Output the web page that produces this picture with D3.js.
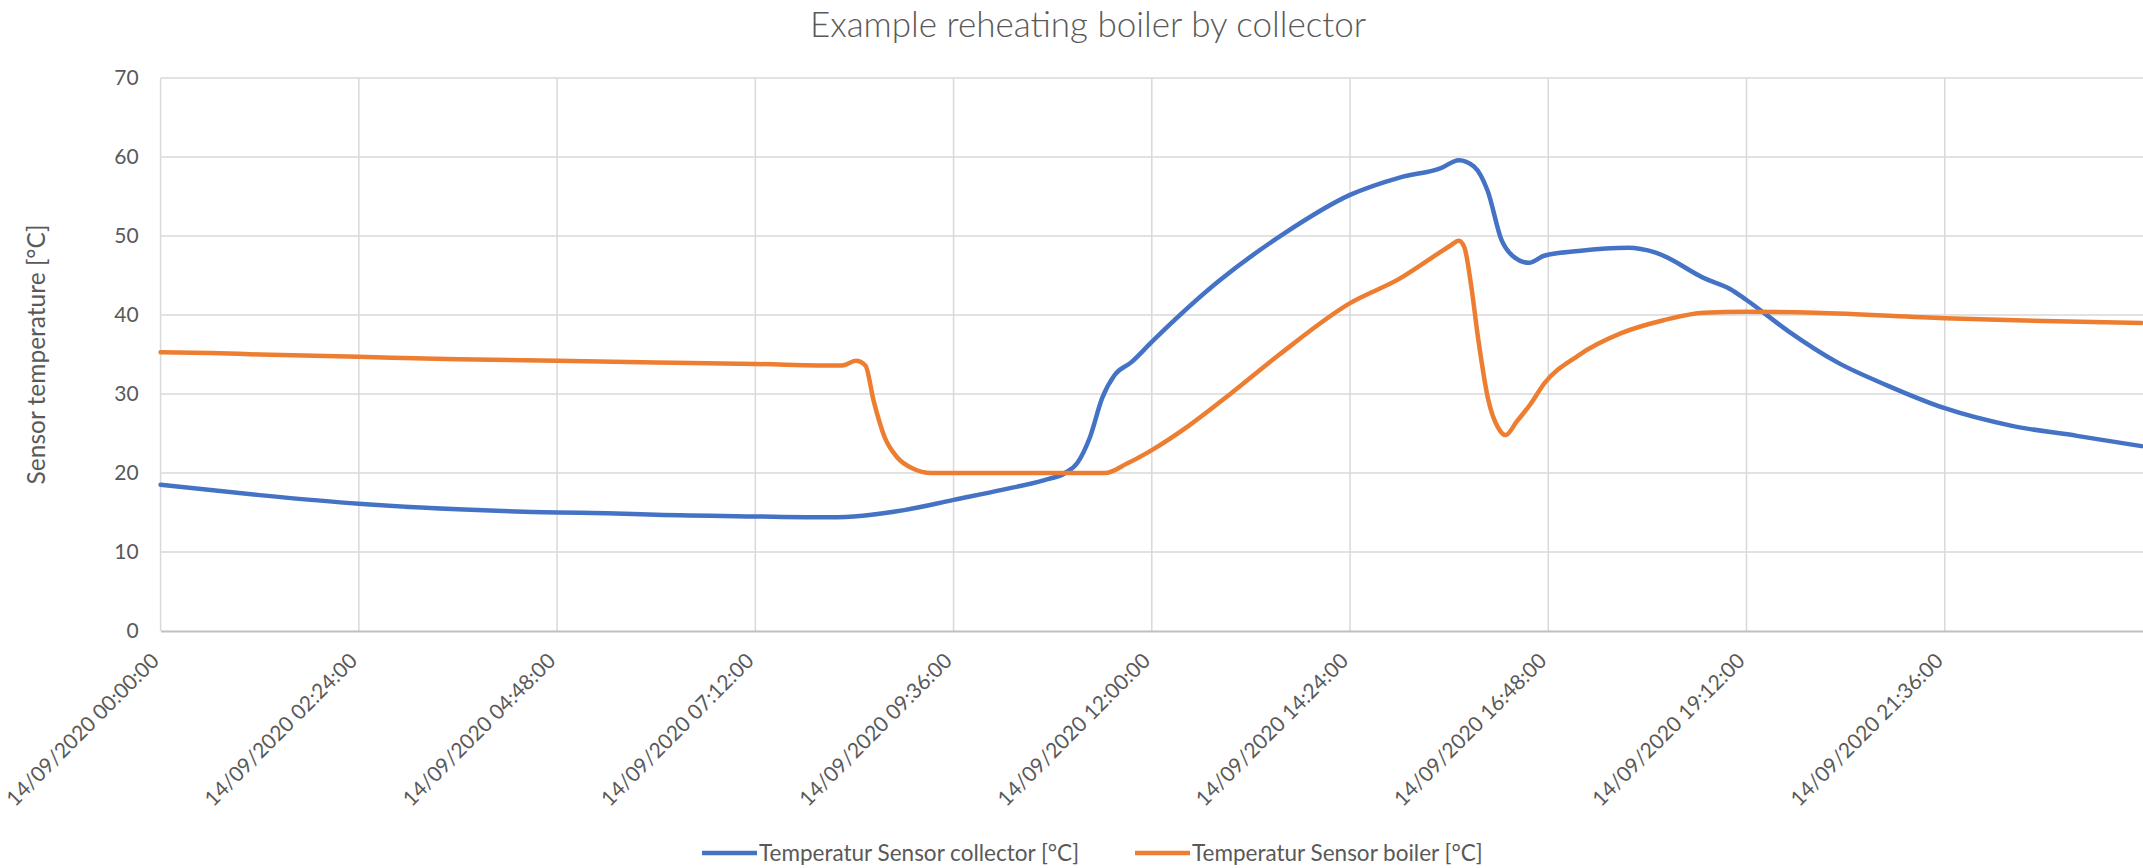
<!DOCTYPE html>
<html>
<head>
<meta charset="utf-8">
<script src="https://cdn.jsdelivr.net/npm/d3@7"></script>
<style>
  body { margin: 0; background: #fff; }
  text { font-family: Lato, "Open Sans", sans-serif; fill: #595959; }
</style>
</head>
<body>
<div id="chart-area"></div>
<script>
const day = "2020-09-14";

const collectorTimes = ["00:00", "01:12", "02:24", "03:36", "04:48", "05:24", "06:00", "07:12", "08:06", "08:30",
  "09:00", "09:36", "10:12", "10:42", "10:57", "11:06", "11:15", "11:24", "11:33", "11:45",
  "12:00", "12:48", "13:36", "14:24", "15:00", "15:30", "15:43", "15:54", "16:04", "16:14",
  "16:22", "16:34", "16:45", "17:10", "17:46", "18:06", "18:42", "19:00", "19:12", "19:42",
  "20:18", "20:54", "21:36", "22:24", "23:12", "23:59"];
const collectorValues = [18.5, 17.2, 16.1, 15.4, 15.0, 14.9, 14.7, 14.5, 14.4, 14.6,
  15.3, 16.6, 17.9, 19.1, 20.0, 21.3, 24.5, 29.5, 32.4, 34.0,
  36.6, 44.2, 50.3, 55.2, 57.4, 58.6, 59.6, 58.8, 55.7, 49.5,
  47.5, 46.6, 47.5, 48.1, 48.5, 47.9, 44.6, 43.3, 41.9, 38.0,
  34.0, 31.1, 28.2, 26.0, 24.7, 23.4];

const boilerTimes = ["00:00", "00:36", "01:12", "02:24", "03:36", "04:48", "06:00", "07:12", "08:15", "08:25",
  "08:32", "08:38", "08:46", "08:55", "09:06", "09:20", "10:30", "11:26", "11:42", "12:00",
  "12:27", "12:57", "13:32", "14:24", "15:00", "15:29", "15:37", "15:43", "15:47", "15:52",
  "15:57", "16:04", "16:12", "16:17", "16:25", "16:35", "16:45", "17:10", "17:41", "18:11",
  "18:41", "19:11", "20:02", "21:36", "22:34", "23:59"];
const boilerValues = [35.3, 35.2, 35.0, 34.7, 34.4, 34.2, 34.0, 33.8, 33.6, 34.2,
  33.6, 29.1, 24.5, 22.0, 20.6, 20.0, 20.0, 20.0, 21.2, 22.9,
  26.0, 30.0, 34.9, 41.5, 44.6, 47.9, 48.8, 49.4, 48.6, 43.7,
  37.1, 29.6, 25.6, 24.8, 26.5, 28.7, 31.3, 34.9, 37.7, 39.3,
  40.3, 40.4, 40.3, 39.6, 39.3, 39.0];

const tickTimes = ["00:00", "02:24", "04:48", "07:12", "09:36", "12:00", "14:24", "16:48", "19:12", "21:36"];
const yTicks = [0, 10, 20, 30, 40, 50, 60, 70];

const seriesNames = ["Temperatur Sensor collector [°C]", "Temperatur Sensor boiler [°C]"];
const seriesColors = ["#4472C4", "#ED7D31"];

const canvas_dims = { width: 2143, height: 868 };
const margins = { top: 78, right: 0, bottom: 237, left: 160.6 };
const content_dims = {
  width: canvas_dims.width - margins.left - margins.right,
  height: canvas_dims.height - margins.top - margins.bottom
};

const parseTime = d3.timeParse("%Y-%m-%d %H:%M");
const toDate = t => parseTime(`${day} ${t}`);

const series = [
  collectorTimes.map((t, i) => ({ date: toDate(t), value: collectorValues[i] })),
  boilerTimes.map((t, i) => ({ date: toDate(t), value: boilerValues[i] }))
];

const svg = d3
  .select("#chart-area")
  .append("svg")
  .attr("width", canvas_dims.width)
  .attr("height", canvas_dims.height);

const group = svg
  .append("g")
  .attr("transform", `translate(${margins.left},${margins.top})`);

const scales = {
  x: d3
    .scaleTime()
    .domain([toDate("00:00"), d3.timeDay.offset(toDate("00:00"), 1)])
    .range([0, content_dims.width]),
  y: d3
    .scaleLinear()
    .domain([0, 70])
    .range([content_dims.height, 0])
};

const tickDates = tickTimes.map(toDate);

// gridlines
group
  .append("g")
  .selectAll("line")
  .data(yTicks.filter(d => d > 0))
  .enter()
  .append("line")
  .attr("x1", 0)
  .attr("x2", content_dims.width)
  .attr("y1", d => scales.y(d))
  .attr("y2", d => scales.y(d))
  .attr("stroke", "#d9d9d9")
  .attr("stroke-width", 1.5);

group
  .append("g")
  .selectAll("line")
  .data(tickDates)
  .enter()
  .append("line")
  .attr("x1", d => scales.x(d))
  .attr("x2", d => scales.x(d))
  .attr("y1", 0)
  .attr("y2", content_dims.height)
  .attr("stroke", "#d9d9d9")
  .attr("stroke-width", 1.5);

// axes
const yAxis = d3.axisLeft(scales.y).tickValues(yTicks).tickSize(0).tickPadding(22);
const yG = group.append("g").attr("class", "left axis").call(yAxis);
yG.select(".domain").remove();
yG.selectAll("text").attr("font-size", "21px").attr("fill", "#595959");

const xAxis = d3
  .axisBottom(scales.x)
  .tickValues(tickDates)
  .tickSize(0)
  .tickFormat(d3.timeFormat("%d/%m/%Y %H:%M:%S"));
const xG = group
  .append("g")
  .attr("class", "bottom axis")
  .attr("transform", `translate(0,${content_dims.height})`)
  .call(xAxis);
xG.select(".domain").attr("stroke", "#bfbfbf").attr("stroke-width", 2);
xG.selectAll("text")
  .attr("font-size", "21px")
  .attr("fill", "#595959")
  .attr("text-anchor", "end")
  .attr("y", 0)
  .attr("dy", "0.35em")
  .attr("transform", "translate(-6,26) rotate(-45)");

// y axis-label
group
  .append("text")
  .attr("x", -(content_dims.height / 2))
  .attr("y", -116)
  .attr("font-size", "24.5px")
  .attr("text-anchor", "middle")
  .attr("transform", "rotate(-90)")
  .text("Sensor temperature [°C]");

// title
svg
  .append("text")
  .attr("x", 1088)
  .attr("y", 37)
  .attr("font-size", "35px")
  .attr("font-weight", 300)
  .attr("text-anchor", "middle")
  .text("Example reheating boiler by collector");

// lines
const line = d3
  .line()
  .x(d => scales.x(d.date))
  .y(d => scales.y(d.value))
  .curve(d3.curveMonotoneX);

group
  .selectAll("path.series")
  .data(series)
  .enter()
  .append("path")
  .attr("class", "series")
  .attr("d", line)
  .attr("fill", "none")
  .attr("stroke", (d, i) => seriesColors[i])
  .attr("stroke-width", 4.5)
  .attr("stroke-linejoin", "round")
  .attr("stroke-linecap", "round");

// legend
const legendX = [702, 1135];
const legend = svg
  .selectAll("g.legend")
  .data(seriesNames)
  .enter()
  .append("g")
  .attr("class", "legend")
  .attr("transform", (d, i) => `translate(${legendX[i]},853)`);

legend
  .append("line")
  .attr("x1", 0)
  .attr("x2", 55)
  .attr("stroke", (d, i) => seriesColors[i])
  .attr("stroke-width", 4.5);

legend
  .append("text")
  .attr("x", 57)
  .attr("dy", "0.35em")
  .attr("font-size", "22.5px")
  .text(d => d);
</script>
</body>
</html>
